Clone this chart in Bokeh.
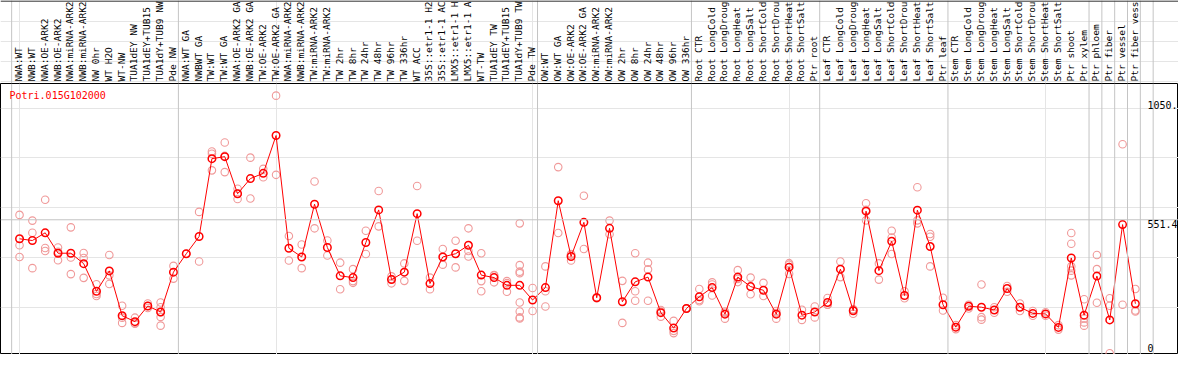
import numpy as np
from bokeh.plotting import figure
from bokeh.models import Range1d, Span, Label
from bokeh.layouts import column
from bokeh.embed import file_html
from bokeh.resources import INLINE
from bokeh.core.properties import value

GENE = "Potri.015G102000"

LABELS = [
    "NWA:WT", "NWB:WT", "NWA:OE-ARK2", "NWB:OE-ARK2", "NWA:miRNA-ARK2", "NWB:miRNA-ARK2",
    "NW 0hr", "WT H2O", "WT-NW", "TUA1dEY NW", "TUA1dEY+TUB15", "TUA1dY+TUB9 NW", "Pde NW",
    "NWA:WT GA", "NWBWT GA", "TW:WT", "TW:WT GA", "NWA:OE-ARK2 GA", "NWB:OE-ARK2 GA",
    "TW:OE-ARK2", "TW:OE-ARK2 GA", "NWA:miRNA-ARK2", "NWB:miRNA-ARK2", "TW:miRNA-ARK2",
    "TW:miRNA-ARK2", "TW 2hr", "TW 8hr", "TW 24hr", "TW 48hr", "TW 96hr", "TW 336hr",
    "WT ACC", "35S::etr1-1 H2", "35S::etr1-1 AC", "LMX5::etr1-1 H", "LMX5::etr1-1 A",
    "WT-TW", "TUA1dEY TW", "TUA1dEY+TUB15", "TUA1dY+TUB9 TW", "Pde TW",
    "OW:WT", "OW:WT GA", "OW:OE-ARK2", "OW:OE-ARK2 GA", "OW:miRNA-ARK2", "OW:miRNA-ARK2",
    "OW 2hr", "OW 8hr", "OW 24hr", "OW 48hr", "OW 96hr", "OW 336hr",
    "Root CTR", "Root LongCold", "Root LongDroug", "Root LongHeat", "Root LongSalt",
    "Root ShortCold", "Root ShortDrou", "Root ShortHeat", "Root ShortSalt", "Ptr root",
    "Leaf CTR", "Leaf LongCold", "Leaf LongDroug", "Leaf LongHeat", "Leaf LongSalt",
    "Leaf ShortCold", "Leaf ShortDrou", "Leaf ShortHeat", "Leaf ShortSalt", "Ptr leaf",
    "Stem CTR", "Stem LongCold", "Stem LongDroug", "Stem LongHeat", "Stem LongSalt",
    "Stem ShortCold", "Stem ShortDrou", "Stem ShortHeat", "Stem ShortSalt",
    "Ptr shoot", "Ptr xylem", "Ptr phloem", "Ptr fiber", "Ptr vessel", "Ptr fiber vess",
]

MEANS = [
    475, 468, 499, 417, 417, 375, 264, 346, 166, 142, 205, 181, 341,
    415, 484, 797, 805, 656, 717, 738, 890, 437, 402, 614, 440, 326, 319, 460, 591, 311, 341,
    576, 295, 402, 415, 449, 329, 319, 288, 288, 229,
    279, 628, 404, 541, 238, 517, 222, 302, 321, 178, 116, 195,
    242, 279, 172, 321, 283, 268, 172, 361, 168, 181,
    219, 353, 186, 586, 347, 465, 247, 590, 444, 210,
    120, 204, 200, 189, 275, 200, 175, 173, 119,
    398, 168, 325, 149, 532, 214,
]

REPLICATES = [
    [571, 449, 402], [548, 499, 357], [632, 438, 426], [440, 389, 423], [521, 400, 333],
    [418, 398, 318], [292, 253, 245], [410, 328, 293], [206, 137, 158], [158, 134, 136],
    [215, 205, 197], [219, 200, 180, 161, 126], [366, 315],
    [415], [583, 384], [826, 817, 750], [862, 743, 808], [676, 635, 657], [801, 637],
    [756, 722], [1050.2, 732], [486, 388], [452, 357], [705, 517], [468, 408],
    [379, 272], [353, 298, 305], [507, 414], [667, 525], [324, 296, 313], [376, 306],
    [687, 467], [319, 272], [434, 371], [467, 360], [517, 404, 426],
    [417, 305, 264], [328, 300, 329], [305, 262, 297],
    [537, 369, 343, 337, 219, 183, 159, 155], [277, 185],
    [364, 264, 203], [763, 498], [411, 388, 414], [648, 434], [236, 240], [548, 493],
    [306, 137], [417, 264, 226], [379, 352, 226], [183, 162, 189], [145, 96, 105], [194, 196],
    [273, 224, 229], [300, 247, 291], [183, 154, 178], [349, 301, 314], [319, 252],
    [298, 245], [185, 154, 177], [377, 334, 371], [190, 149], [203, 159],
    [237, 210, 210], [384, 321], [191, 174, 192], [618, 549, 591], [376, 311],
    [507, 480, 414], [264, 236], [682, 549, 537], [494, 483, 364], [238, 187],
    [128, 112], [210, 195], [291, 160, 150], [200, 178], [285, 262], [215, 185],
    [185, 166], [180, 166], [128, 110],
    [498, 364, 347, 328, 455], [232, 155, 139, 126], [410, 353, 218], [236, 206, 15],
    [855, 210], [273, 187, 183],
]

GROUP_SIZES = [13, 28, 12, 10, 10, 11, 1, 1, 1, 1, 1]
MID_VALUE = 551.4
Y_TICKS = [0, 551.4, 1050.2]
Y_TICK_LABELS = ["0", "551.4", "1050."]

# ---- layout / style ----
W = 1178
H_TOP = 83
H_DATA = 271
FONT = "DejaVu Sans Mono"
GRAY = "#c4c4c4"
SEP_OFF = 5.0 / 13.0
Y_LABEL_SHIFT = [13, 0, -5]

N = len(LABELS)
xs = list(range(N))
xr = Range1d(-1.485, 90.36)

ends = list(np.cumsum(GROUP_SIZES) - 1)
sep_x = [-1 + SEP_OFF] + [e + SEP_OFF for e in ends]

# ---- label strip ----
top = figure(width=W, height=H_TOP, x_range=xr, y_range=Range1d(-2, H_TOP - 2),
             output_backend="svg", toolbar_location=None,
             x_axis_location=None, y_axis_location=None, min_border=0)
top.outline_line_color = None
for sx in sep_x:
    top.add_layout(Span(location=sx, dimension="height", line_color=GRAY, line_width=1))
top.add_layout(Span(location=H_TOP - 2.5, dimension="width", line_color="black", line_width=1))
top.text(x=xs, y=[0] * N, text=LABELS, angle=np.pi / 2, text_align="left",
         text_baseline="middle", text_font=value(FONT), text_font_size="9.5px",
         text_color="black", x_offset=-1)

# ---- data panel ----
p = figure(width=W, height=H_DATA, x_range=xr, y_range=Range1d(10, 1099),
           output_backend="svg", toolbar_location=None,
           x_axis_location=None, y_axis_location=None, min_border=0)
p.outline_line_color = "black"
p.outline_line_width = 1
for sx in sep_x:
    p.add_layout(Span(location=sx, dimension="height", line_color=GRAY, line_width=1))
p.add_layout(Span(location=MID_VALUE, dimension="width", line_color=GRAY, line_width=1))

rep_x, rep_y = [], []
for i, reps in enumerate(REPLICATES):
    for r in reps:
        rep_x.append(i)
        rep_y.append(r)

p.scatter(rep_x, rep_y, marker="circle", size=7.5, fill_color=None,
          line_color="#f09a9a", line_width=1.1)
p.line(xs, MEANS, line_color="#ff0000", line_width=1)
p.scatter(xs, MEANS, marker="circle", size=7.5, fill_color=None,
          line_color="#ff0000", line_width=1.5)

p.add_layout(Label(x=9, y=H_DATA - 12, x_units="screen", y_units="screen", text=GENE,
                   text_font=FONT, text_font_size="10px", text_color="#ff0000",
                   text_baseline="middle"))
for v, t, sh in zip(Y_TICKS, Y_TICK_LABELS, Y_LABEL_SHIFT):
    p.add_layout(Label(x=1147, x_units="screen", y=v, y_offset=sh, text=t,
                       text_font=FONT, text_font_size="10px", text_color="black",
                       text_baseline="top"))

layout = column(top, p)
open("out.html", "w").write(file_html(layout, INLINE))
